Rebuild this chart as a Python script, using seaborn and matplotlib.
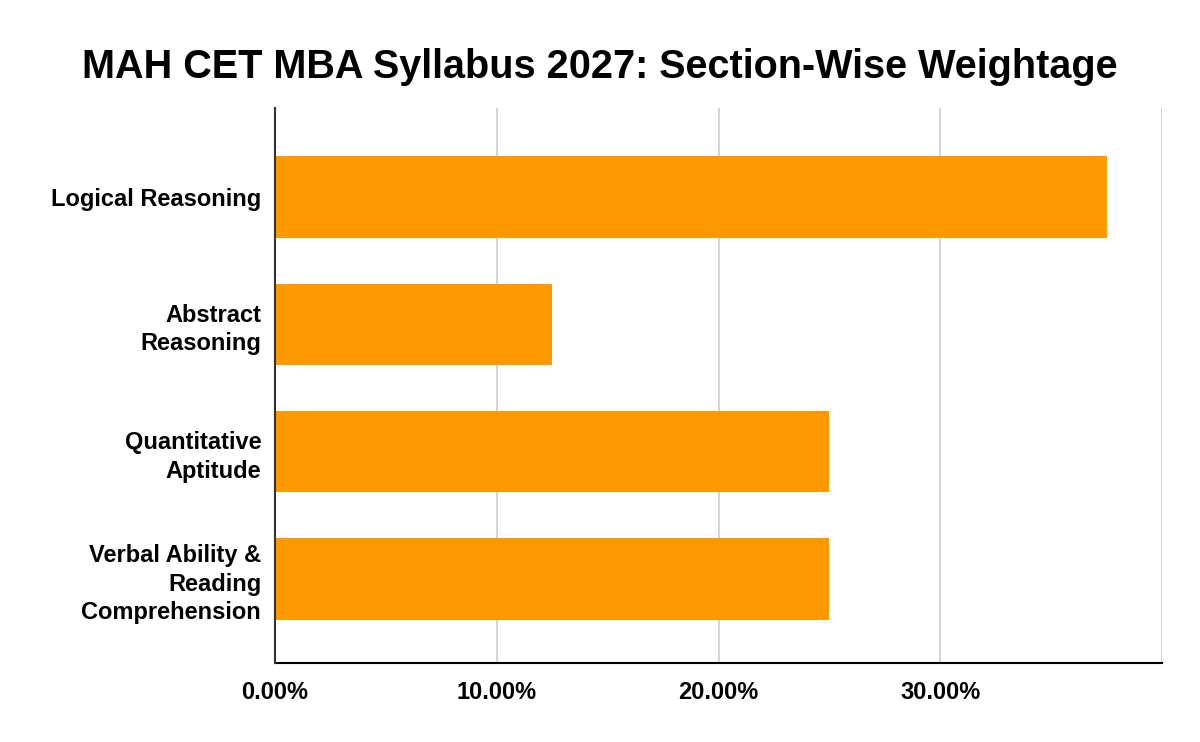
import pandas as pd
import seaborn as sns
import matplotlib.pyplot as plt
from matplotlib.ticker import FuncFormatter

sections = ["Logical Reasoning", "Abstract\nReasoning", "Quantitative\nAptitude",
            "Verbal Ability &\nReading\nComprehension"]
weightage = [37.5, 12.5, 25.0, 25.0]

df = pd.DataFrame({"Section": sections, "Weightage": weightage})

sns.set_style("white")
plt.rcParams["font.family"] = ["Liberation Sans", "DejaVu Sans"]
plt.rcParams["text.color"] = "black"
plt.rcParams["xtick.color"] = "black"
plt.rcParams["ytick.color"] = "black"

fig = plt.figure(figsize=(12, 7.42), dpi=100)
ax = fig.add_axes([0.2292, 0.1065, 0.7391, 0.7479])

sns.barplot(data=df, y="Section", x="Weightage", color="#FF9900",
            saturation=1, width=0.64, orient="h", ax=ax, zorder=3,
            linewidth=0, edgecolor="none")

ax.set_xlim(0, 40)
ax.set_ylim(3.66, -0.70)
ax.set_xticks([0, 10, 20, 30, 40])
ax.xaxis.set_major_formatter(FuncFormatter(lambda v, p: "" if v >= 40 else f"{v:.2f}%"))
ax.grid(axis="x", color="#cccccc", linewidth=1.2, zorder=0)
ax.set_xlabel("")
ax.set_ylabel("")

for s in ["top", "right"]:
    ax.spines[s].set_visible(False)
ax.spines["left"].set_color("#333333")
ax.spines["left"].set_linewidth(1.5)
ax.spines["bottom"].set_color("black")
ax.spines["bottom"].set_linewidth(1.5)
ax.spines["left"].set_zorder(4)

ax.tick_params(axis="both", length=0, labelsize=17, colors="black")
ax.tick_params(axis="x", pad=13)
ax.tick_params(axis="y", pad=10)
for lbl in ax.get_xticklabels() + ax.get_yticklabels():
    lbl.set_fontweight("bold")
for lbl in ax.get_yticklabels():
    lbl.set_linespacing(1.3)
    lbl.set_horizontalalignment("right")
    lbl.set_multialignment("right")

fig.suptitle("MAH CET MBA Syllabus 2027: Section-Wise Weightage",
             fontsize=28.5, fontweight="bold", y=0.935, color="black")

plt.savefig("out.png", dpi=100)
